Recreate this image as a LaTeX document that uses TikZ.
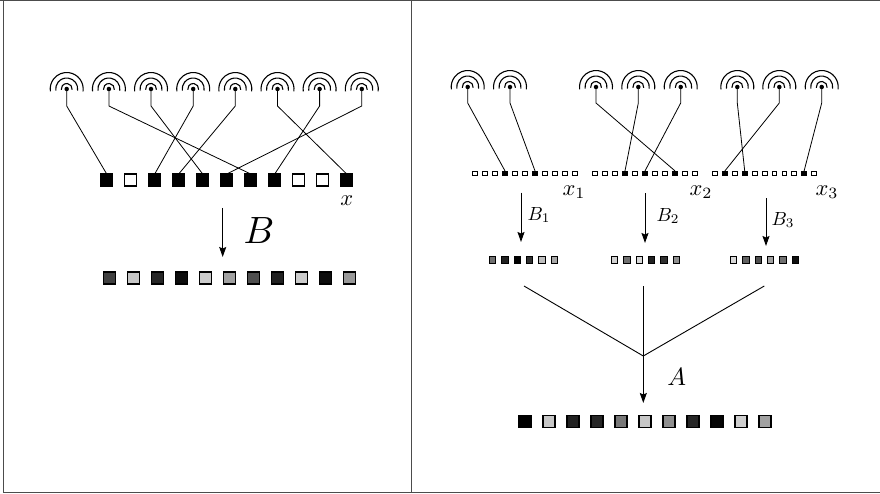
\documentclass[tikz,border=0pt]{standalone}
\usetikzlibrary{arrows.meta}
\begin{document}
\begin{tikzpicture}[x=1pt,y=-1pt,
 sq/.style={draw, line width=1.1pt, minimum size=12pt, inner sep=0pt, outer sep=0pt},
 ssq/.style={draw, line width=0.7pt, minimum size=4.8pt, inner sep=0pt, outer sep=0pt},
 msq/.style={draw, line width=0.7pt, minimum size=6.3pt, inner sep=0pt, outer sep=0pt},
 dot/.style={circle, fill, inner sep=0pt, minimum size=4.5pt},
 wire/.style={line width=0.8pt},
 arcs/.style={line width=1.1pt},
 arr/.style={line width=1pt, -{Stealth[length=10pt,width=7pt,inset=1.5pt]}},
 vline/.style={line width=0.9pt},
 frame/.style={line width=1pt, black!70},
 bigl/.style={inner sep=0pt, scale=3.8},
 midl/.style={inner sep=0pt, scale=2.25},
 sml/.style={inner sep=0pt, scale=1.9},
 al/.style={inner sep=0pt, scale=2.5}]
\useasboundingbox (0,0) rectangle (880,494);
% frame
\coordinate (f1) at (0,1); \coordinate (f2) at (880,1);
\coordinate (f3) at (3,1); \coordinate (f4) at (3,492);
\coordinate (f5) at (411,1); \coordinate (f6) at (411,492);
\coordinate (f7) at (880,492);
\draw[frame] (f1) -- (f2);
\draw[frame] (f3) -- (f4) -- (f7);
\draw[frame] (f5) -- (f6);

% ---------- left panel ----------
\foreach \i/\x in {1/66.7,2/108.9,3/151,4/193.2,5/235.3,6/277.5,7/319.6,8/361.8}
  \node[dot] (a\i) at (\x,89) {};
\foreach \i/\c in {1/black,2/white,3/black,4/black,5/black,6/black,7/black,8/black,9/white,10/white,11/black}
  \node[sq, fill=\c] (s\i) at ({106.7+24*(\i-1)},180) {};
\foreach \i/\c in {1/black!75,2/black!22,3/black!85,4/black!95,5/black!20,6/black!37,7/black!69,8/black!87,9/black!20,10/black!95,11/black!40}
  \node[sq, fill=\c] (t\i) at ({109.3+24*(\i-1)},278) {};
\foreach \a/\s in {1/1,2/7,3/5,4/3,5/4,6/11,7/8,8/6}
  \draw[wire] (a\a.center) -- ++(0,17) -- (s\s.north);
\node[midl] (xl) at (346.7,201) {$x$};
\coordinate (bs) at (222.7,208); \coordinate (be) at (222.7,257);
\draw[arr] (bs) -- (be);
\node[bigl] (bl) at (259,231) {$B$};

% ---------- right panel ----------
\foreach \i/\x in {1/467.7,2/510,3/596,4/638.3,5/680.7,6/737.3,7/779.3,8/821.7}
  \node[dot] (b\i) at (\x,87) {};
\foreach \i/\c in {1/white,2/white,3/white,4/black,5/white,6/white,7/black,8/white,9/white,10/white,11/white}
  \node[ssq, fill=\c] (p1-\i) at ({475+10*(\i-1)},173.3) {};
\foreach \i/\c in {1/white,2/white,3/white,4/black,5/white,6/black,7/white,8/white,9/black,10/white,11/white}
  \node[ssq, fill=\c] (p2-\i) at ({595+10*(\i-1)},173.3) {};
\foreach \i/\c in {1/white,2/black,3/white,4/black,5/white,6/white,7/white,8/white,9/white,10/black,11/white}
  \node[ssq, fill=\c] (p3-\i) at ({715+9.9*(\i-1)},173.3) {};
\foreach \a/\s in {1/1-4,2/1-7,3/2-9,4/2-4,5/2-6,6/3-4,7/3-2,8/3-10}
  \draw[wire] (b\a.center) -- ++(0,16) -- (p\s.north);
\node[midl] (x1) at (574,192) {$x_1$};
\node[midl] (x2) at (701,192) {$x_2$};
\node[midl] (x3) at (827,192) {$x_3$};

\coordinate (c1s) at (521,192.7); \coordinate (c1e) at (521,242);
\coordinate (c2s) at (645,193.3); \coordinate (c2e) at (645,243);
\coordinate (c3s) at (766,198.3); \coordinate (c3e) at (766,246);
\draw[arr] (c1s) -- (c1e);
\draw[arr] (c2s) -- (c2e);
\draw[arr] (c3s) -- (c3e);
\node[sml] (lb1) at (539,215) {$B_1$};
\node[sml] (lb2) at (668,216) {$B_2$};
\node[sml] (lb3) at (783,220) {$B_3$};

\foreach \i/\c in {1/black!56,2/black!87,3/black,4/black!81,5/black!25,6/black!34}
  \node[msq, fill=\c] (m1-\i) at ({492.3+12.4*(\i-1)},260) {};
\foreach \i/\c in {1/black!18,2/black!56,3/black!15,4/black!87,5/black!81,6/black!44}
  \node[msq, fill=\c] (m2-\i) at ({614.3+12.4*(\i-1)},260) {};
\foreach \i/\c in {1/black!15,2/black!62,3/black!69,4/black!37,5/black!56,6/black!94}
  \node[msq, fill=\c] (m3-\i) at ({733.3+12.4*(\i-1)},260) {};

\coordinate (vl) at (524,286);
\coordinate (vr) at (764.3,286);
\coordinate (vm) at (643.3,356);
\coordinate (vt) at (643.3,286);
\coordinate (ve) at (643.3,403);
\draw[vline] (vl) -- (vm) -- (vr);
\draw[arr] (vt) -- (ve);
\node[al] (la) at (676.7,377) {$A$};

\foreach \i/\c in {1/black,2/black!22,3/black!87,4/black!85,5/black!53,6/black!22,7/black!44,8/black!85,9/black!98,10/black!19,11/black!37}
  \node[sq, fill=\c] (q\i) at ({525+24*(\i-1)},421.7) {};

% antenna arcs
\foreach \n in {a1,a2,a3,a4,a5,a6,a7,a8,b1,b2,b3,b4,b5,b6,b7,b8}
  \foreach \r in {5.5,11,16.5}
    \draw[arcs] (\n.center) ++({\r*cos(-8)},{-\r*sin(-8)}) arc[start angle=-8,end angle=188,radius=\r pt];
\end{tikzpicture}
\end{document}
